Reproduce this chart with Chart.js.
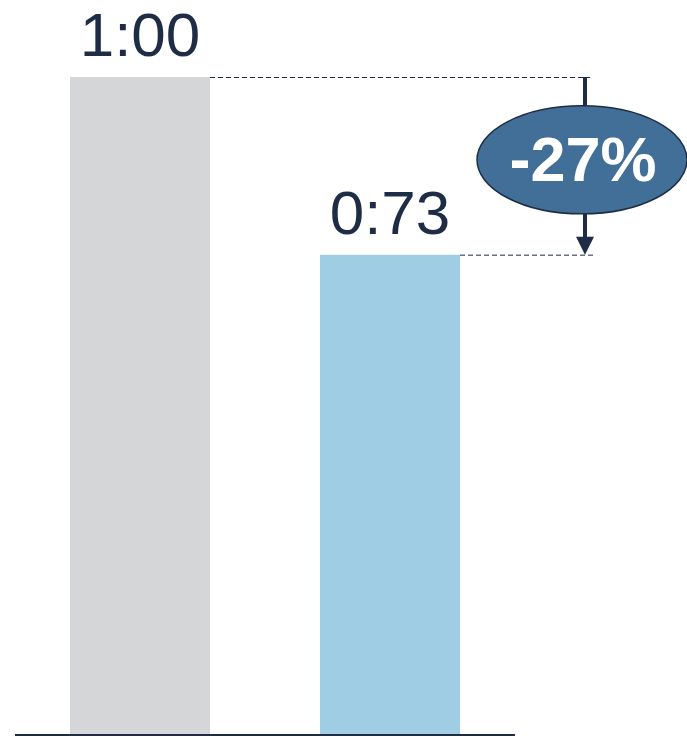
<!DOCTYPE html>
<html>
<head>
<meta charset="utf-8">
<script src="https://cdn.jsdelivr.net/npm/chart.js@4"></script>
<style>
  html, body { margin: 0; padding: 0; background: #fff; }
  #wrap { width: 687px; height: 738px; }
</style>
</head>
<body>
<div id="wrap"><canvas id="chart"></canvas></div>
<script>
const categories = ['Before', 'After']
const values = [1.00, 0.73]
const valueLabels = ['1:00', '0:73']
const barColors = ['#d5d6d8', '#9fcde4']
const changeLabel = '-27%'

const navy = '#1e2d45'

// labels above bars, dashed guides, arrow and the change bubble
const annotations = {
    id: 'annotations',
    afterDatasetsDraw(chart) {
        const ctx = chart.ctx
        const meta = chart.getDatasetMeta(0)
        const y = chart.scales.y
        const area = chart.chartArea

        ctx.save()
        ctx.fillStyle = navy
        ctx.font = '62px "Liberation Sans", Arial, sans-serif'
        ctx.textAlign = 'center'
        ctx.textBaseline = 'bottom'
        meta.data.forEach((bar, i) => {
            ctx.fillText(valueLabels[i], bar.x, bar.y - 7)
        })

        const top = y.getPixelForValue(values[0])
        const low = y.getPixelForValue(values[1])
        const arrowX = 585

        ctx.strokeStyle = navy
        ctx.lineWidth = 1
        ctx.setLineDash([5, 3])
        ctx.beginPath()
        ctx.moveTo(meta.data[0].x + meta.data[0].width / 2, top + 0.5)
        ctx.lineTo(arrowX + 5, top + 0.5)
        ctx.moveTo(meta.data[1].x + meta.data[1].width / 2, low + 0.5)
        ctx.lineTo(arrowX + 8, low + 0.5)
        ctx.stroke()
        ctx.setLineDash([])

        ctx.lineWidth = 4
        ctx.beginPath()
        ctx.moveTo(arrowX, top)
        ctx.lineTo(arrowX, low - 16)
        ctx.stroke()
        ctx.fillStyle = navy
        ctx.beginPath()
        ctx.moveTo(arrowX - 9, low - 18)
        ctx.lineTo(arrowX + 9, low - 18)
        ctx.lineTo(arrowX, low)
        ctx.closePath()
        ctx.fill()

        const cy = (top + low) / 2 - 6
        ctx.fillStyle = '#426f98'
        ctx.lineWidth = 1.5
        ctx.beginPath()
        ctx.ellipse(582, cy, 105, 54, 0, 0, Math.PI * 2)
        ctx.fill()
        ctx.stroke()

        ctx.fillStyle = '#ffffff'
        ctx.font = 'bold 63px "Liberation Sans", Arial, sans-serif'
        ctx.textBaseline = 'middle'
        ctx.fillText(changeLabel, 583, cy + 4)

        // baseline
        ctx.strokeStyle = navy
        ctx.lineWidth = 2
        ctx.beginPath()
        ctx.moveTo(area.left, area.bottom)
        ctx.lineTo(area.right, area.bottom)
        ctx.stroke()
        ctx.restore()
    }
}

new Chart(document.getElementById('chart'), {
    type: 'bar',
    data: {
        labels: categories,
        datasets: [{
            data: values,
            backgroundColor: barColors,
            borderWidth: 0,
            barPercentage: 0.56,
            categoryPercentage: 1
        }]
    },
    options: {
        responsive: true,
        maintainAspectRatio: false,
        animation: false,
        layout: {
            padding: { left: 15, right: 172, top: 77, bottom: 3 }
        },
        scales: {
            x: { display: false },
            y: { display: false, min: 0, max: 1 }
        },
        plugins: {
            legend: { display: false },
            tooltip: { enabled: false }
        }
    },
    plugins: [annotations]
})
</script>
</body>
</html>
